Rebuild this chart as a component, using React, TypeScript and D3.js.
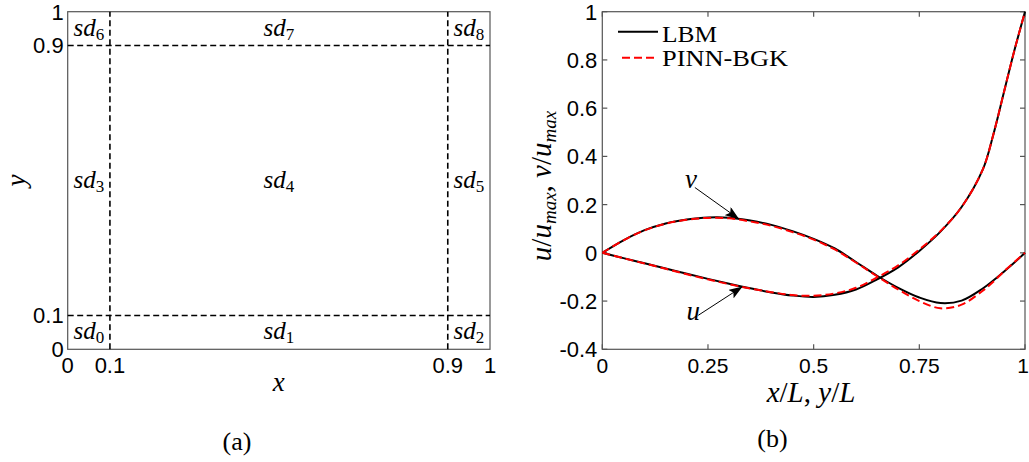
import React from 'react';
import * as d3 from 'd3';

const W = 1029;
const H = 462;

// ---- Panel (b) data: centerline velocity profiles ----
const positions = [0, 0.05, 0.1, 0.15, 0.2, 0.25, 0.3, 0.35, 0.4, 0.45, 0.5, 0.55, 0.6, 0.65, 0.7, 0.75, 0.8, 0.85, 0.9, 0.925, 0.95, 0.975, 1];
const uLBM = [0, -0.022, -0.043, -0.065, -0.087, -0.108, -0.128, -0.147, -0.164, -0.177, -0.183, -0.174, -0.152, -0.11, -0.06, 0.008, 0.088, 0.19, 0.345, 0.49, 0.665, 0.84, 1.0];
const vLBM = [0, 0.052, 0.094, 0.122, 0.138, 0.147, 0.146, 0.134, 0.116, 0.09, 0.058, 0.018, -0.038, -0.095, -0.145, -0.185, -0.208, -0.198, -0.148, -0.115, -0.078, -0.04, 0];
const uPINN = [0, -0.022, -0.044, -0.066, -0.089, -0.11, -0.13, -0.148, -0.163, -0.175, -0.178, -0.168, -0.145, -0.102, -0.052, 0.014, 0.09, 0.19, 0.345, 0.49, 0.665, 0.84, 1.0];
const vPINN = [0, 0.052, 0.093, 0.121, 0.137, 0.145, 0.143, 0.13, 0.112, 0.086, 0.055, 0.014, -0.04, -0.097, -0.152, -0.2, -0.23, -0.215, -0.157, -0.12, -0.077, -0.038, 0];

const xTicksB = [0, 0.25, 0.5, 0.75, 1];
const xTickLabelsB = ['0', '0.25', '0.5', '0.75', '1'];
const yTicksB = [-0.4, -0.2, 0, 0.2, 0.4, 0.6, 0.8, 1];
const yTickLabelsB = ['-0.4', '-0.2', '0', '0.2', '0.4', '0.6', '0.8', '1'];
const legendNames = ['LBM', 'PINN-BGK'];

// arrow annotations in data units
const arrowLabels = ['v', 'u'];
const arrowFrom = [[0.219, 0.271], [0.227, -0.259]];
const arrowTo = [[0.322, 0.142], [0.33, -0.142]];
const arrowText = [[0.21, 0.27], [0.215, -0.28]];

// ---- Panel (a) data: subdomain decomposition ----
const ticksA = [0, 0.1, 0.9, 1];
const tickLabelsA = ['0', '0.1', '0.9', '1'];
const dividersA = [0.1, 0.9];
const subCentersX = [0.05, 0.5, 0.95];
const subCentersY = [0.05, 0.5, 0.95];
const subIndex = [0, 1, 2, 3, 4, 5, 6, 7, 8];

const SANS = "'Liberation Sans', Arial, sans-serif";
const SERIF = "'Liberation Serif', 'Times New Roman', serif";
const FRAME = '#555';

export default function App() {
  const xA = d3.scaleLinear().domain([0, 1]).range([67.7, 490]);
  const yA = d3.scaleLinear().domain([0, 1]).range([349.3, 11.7]);
  const xB = d3.scaleLinear().domain([0, 1]).range([602.3, 1025]);
  const yB = d3.scaleLinear().domain([-0.4, 1]).range([349.3, 11.7]);

  const line = d3
    .line<number>()
    .x((_, i) => xB(positions[i]))
    .y((d) => yB(d))
    .curve(d3.curveCatmullRom.alpha(0.5));

  const tickLen = 5;

  return (
    <svg width={W} height={H} style={{ position: 'absolute', left: 0, top: 0, background: '#fff' }}>
      <defs>
        <marker id="arrowhead" markerUnits="userSpaceOnUse" markerWidth="14" markerHeight="10" refX="13" refY="5" orient="auto">
          <path d="M0,0 L14,5 L0,10 L3,5 z" fill="#000" />
        </marker>
        <clipPath id="clipB">
          <rect x={xB(0)} y={yB(1) - 2} width={xB(1) - xB(0) + 1} height={yB(-0.4) - yB(1) + 2} />
        </clipPath>
      </defs>

      {/* ================= Panel (a) ================= */}
      <g>
        <rect x={xA(0)} y={yA(1)} width={xA(1) - xA(0)} height={yA(0) - yA(1)} fill="none" stroke={FRAME} strokeWidth={1.2} />
        {dividersA.map((d) => (
          <line key={'v' + d} x1={xA(d)} x2={xA(d)} y1={yA(0)} y2={yA(1)} stroke="#000" strokeWidth={1.6} strokeDasharray="6 3.5" />
        ))}
        {dividersA.map((d) => (
          <line key={'h' + d} x1={xA(0)} x2={xA(1)} y1={yA(d)} y2={yA(d)} stroke="#000" strokeWidth={1.6} strokeDasharray="6 3.5" />
        ))}
        {ticksA.map((t, i) => (
          <text key={'ya' + t} x={xA(0) - 4} y={yA(t)} dy="0.36em" textAnchor="end" fontFamily={SANS} fontSize={22} fill="#000">
            {tickLabelsA[i]}
          </text>
        ))}
        {ticksA.map((t, i) => (
          <text key={'xa' + t} x={xA(t)} y={yA(0) + 24} textAnchor="middle" fontFamily={SANS} fontSize={22} fill="#000">
            {tickLabelsA[i]}
          </text>
        ))}
        {subIndex.map((k) => (
          <text
            key={'sd' + k}
            x={xA(subCentersX[k % 3])}
            y={yA(subCentersY[Math.floor(k / 3)]) + 7}
            textAnchor="middle"
            fontFamily={SERIF}
            fontSize={25}
            fill="#000"
          >
            <tspan fontStyle="italic">sd</tspan>
            <tspan fontSize={17} dy={4}>{k}</tspan>
          </text>
        ))}
        <text x={xA(0.5)} y={391} textAnchor="middle" fontFamily={SERIF} fontStyle="italic" fontSize={27} fill="#000">x</text>
        <text transform={`translate(25,${yA(0.5)}) rotate(-90)`} textAnchor="middle" fontFamily={SERIF} fontStyle="italic" fontSize={27} fill="#000">y</text>
        <text x={237} y={450} textAnchor="middle" fontFamily={SERIF} fontSize={26} fill="#000">(a)</text>
      </g>

      {/* ================= Panel (b) ================= */}
      <g>
        <rect x={xB(0)} y={yB(1)} width={xB(1) - xB(0)} height={yB(-0.4) - yB(1)} fill="none" stroke={FRAME} strokeWidth={1.2} />
        {yTicksB.map((t) => (
          <g key={'ytb' + t}>
            <line x1={xB(0)} x2={xB(0) + tickLen} y1={yB(t)} y2={yB(t)} stroke={FRAME} strokeWidth={1.2} />
            <line x1={xB(1)} x2={xB(1) - tickLen} y1={yB(t)} y2={yB(t)} stroke={FRAME} strokeWidth={1.2} />
          </g>
        ))}
        {xTicksB.map((t) => (
          <g key={'xtb' + t}>
            <line x1={xB(t)} x2={xB(t)} y1={yB(-0.4)} y2={yB(-0.4) - tickLen} stroke={FRAME} strokeWidth={1.2} />
            <line x1={xB(t)} x2={xB(t)} y1={yB(1)} y2={yB(1) + tickLen} stroke={FRAME} strokeWidth={1.2} />
          </g>
        ))}
        {yTicksB.map((t, i) => (
          <text key={'ylb' + t} x={xB(0) - 5} y={yB(t)} dy="0.36em" textAnchor="end" fontFamily={SANS} fontSize={22} fill="#000">
            {yTickLabelsB[i]}
          </text>
        ))}
        {xTicksB.map((t, i) => (
          <text key={'xlb' + t} x={i === xTicksB.length - 1 ? xB(t) - 2 : xB(t)} y={yB(-0.4) + 24} textAnchor="middle" fontFamily={SANS} fontSize={21} fill="#000">
            {xTickLabelsB[i]}
          </text>
        ))}

        <g clipPath="url(#clipB)">
          <path d={line(uLBM) || ''} fill="none" stroke="#000" strokeWidth={2} />
          <path d={line(vLBM) || ''} fill="none" stroke="#000" strokeWidth={2} />
          <path d={line(uPINN) || ''} fill="none" stroke="#f00" strokeWidth={2} strokeDasharray="8 4" />
          <path d={line(vPINN) || ''} fill="none" stroke="#f00" strokeWidth={2} strokeDasharray="8 4" />
        </g>

        {arrowLabels.map((lab, i) => (
          <g key={'arr' + lab}>
            <line
              x1={xB(arrowFrom[i][0])}
              y1={yB(arrowFrom[i][1])}
              x2={xB(arrowTo[i][0])}
              y2={yB(arrowTo[i][1])}
              stroke="#000"
              strokeWidth={1}
              markerEnd="url(#arrowhead)"
            />
            <text
              x={xB(arrowText[i][0])}
              y={yB(arrowText[i][1])}
              textAnchor="middle"
              fontFamily={SERIF}
              fontStyle="italic"
              fontSize={27}
              fill="#000"
            >
              {lab}
            </text>
          </g>
        ))}

        <line x1={618} x2={658} y1={31.7} y2={31.7} stroke="#000" strokeWidth={2} />
        <text x={662} y={41.5} fontFamily={SERIF} fontSize={24} textLength={55} lengthAdjust="spacingAndGlyphs" fill="#000">{legendNames[0]}</text>
        <line x1={622} x2={658} y1={57.7} y2={57.7} stroke="#f00" strokeWidth={2} strokeDasharray="8 4" />
        <text x={662} y={65.5} fontFamily={SERIF} fontSize={24} textLength={126} lengthAdjust="spacingAndGlyphs" fill="#000">{legendNames[1]}</text>

        <text x={811} y={402} textAnchor="middle" fontFamily={SERIF} fontStyle="italic" fontSize={29} fill="#000">
          x<tspan fontStyle="normal">/</tspan>L<tspan fontStyle="normal">, </tspan>y<tspan fontStyle="normal">/</tspan>L
        </text>
        <text transform={`translate(551,186) rotate(-90)`} textAnchor="middle" fontFamily={SERIF} fontStyle="italic" fontSize={29} fill="#000">
          u<tspan fontStyle="normal">/</tspan>u<tspan fontSize={19} dy={5}>max</tspan>
          <tspan fontStyle="normal" dy={-5}>, </tspan>v<tspan fontStyle="normal">/</tspan>u<tspan fontSize={19} dy={5}>max</tspan>
        </text>
        <text x={772.5} y={447} textAnchor="middle" fontFamily={SERIF} fontSize={26} fill="#000">(b)</text>
      </g>
    </svg>
  );
}
